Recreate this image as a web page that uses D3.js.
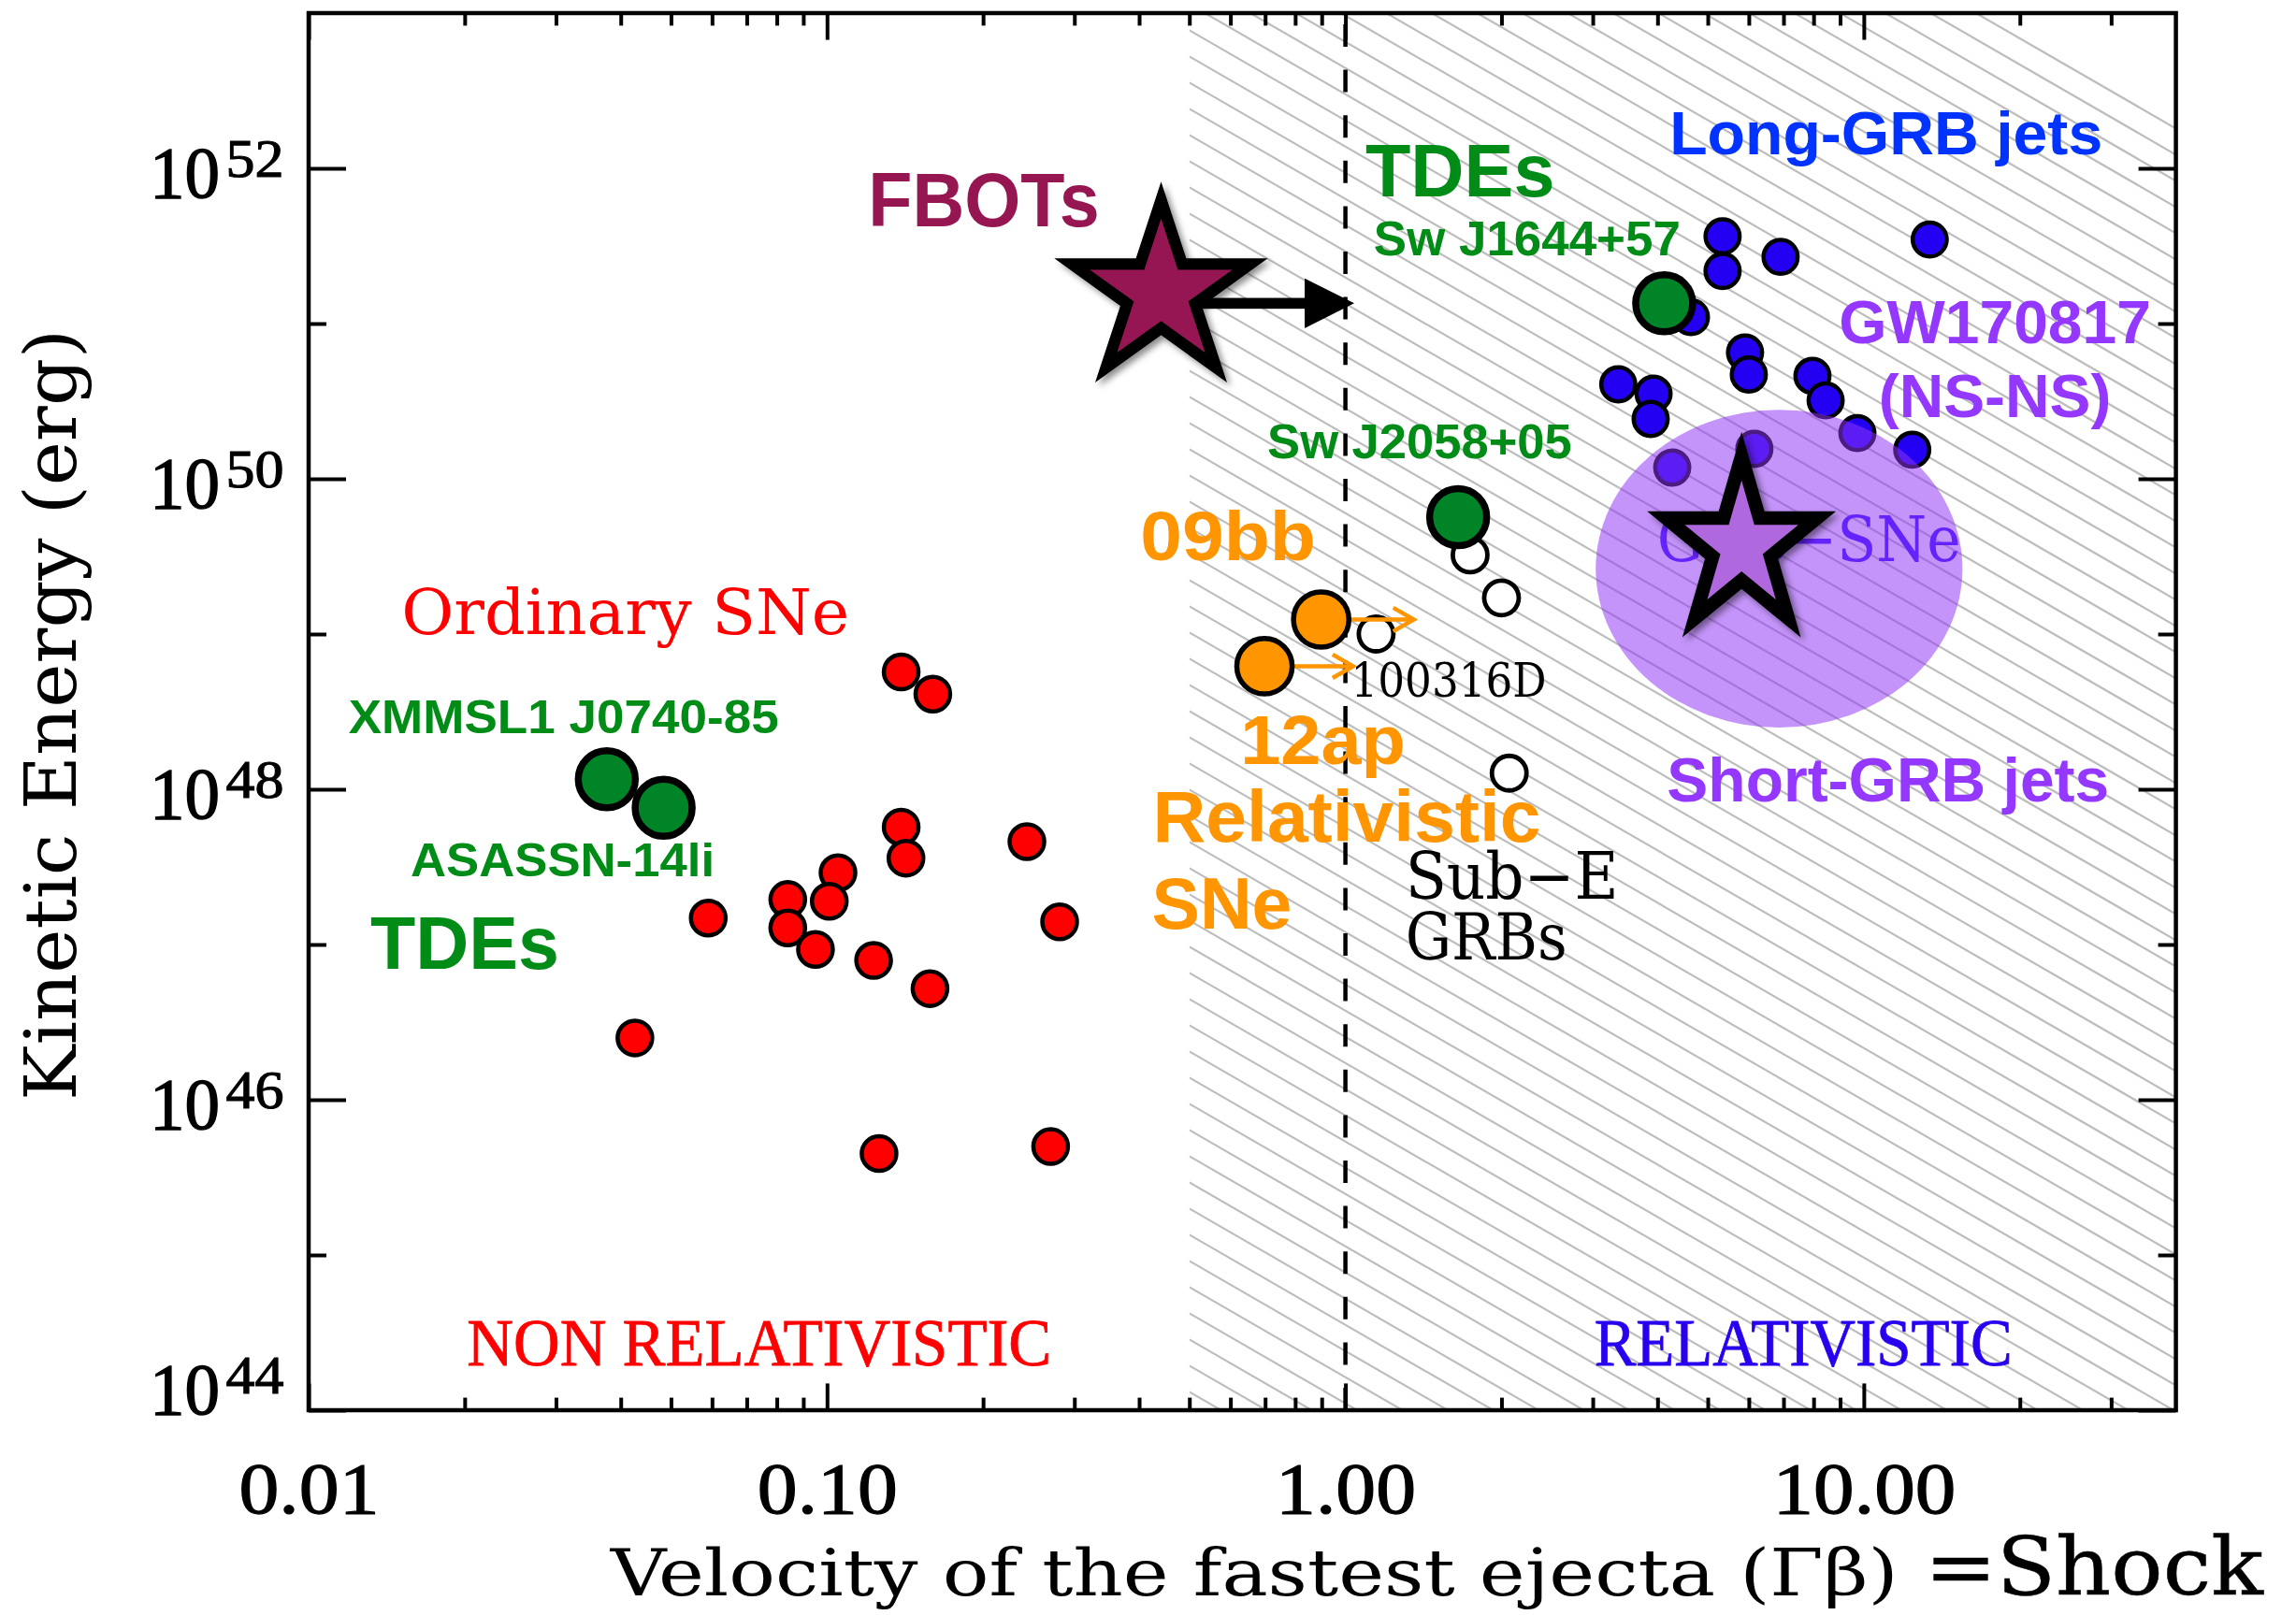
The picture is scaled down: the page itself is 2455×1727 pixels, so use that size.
<!DOCTYPE html>
<html>
<head>
<meta charset="utf-8">
<script src="https://cdn.jsdelivr.net/npm/d3@7"></script>
<style>
  html, body { margin: 0; padding: 0; background: #ffffff; }
  svg { display: block; }
</style>
</head>
<body>
<svg id="chart" width="2455" height="1727"></svg>
<script>
// ---------------------------------------------------------------------------
// Kinetic energy vs. velocity of the fastest ejecta (Γβ)
// Each record: [Γβ, kinetic energy in erg]
// ---------------------------------------------------------------------------
const ordinarySNe = [
  [0.139, 5.7e48], [0.160, 4.1e48], [0.139, 5.7e47], [0.142, 3.6e47],
  [0.243, 4.6e47], [0.105, 2.9e47], [0.101, 1.9e47], [0.084, 1.95e47],
  [0.084, 1.28e47], [0.095, 9.3e46], [0.123, 7.9e46], [0.281, 1.4e47],
  [0.158, 5.2e46], [0.059, 1.48e47], [0.0426, 2.5e46], [0.126, 4.5e45],
  [0.270, 5.0e45]
];

const longGRBJets = [
  [5.34, 3.65e51], [5.34, 2.18e51], [6.91, 2.69e51], [13.4, 3.48e51],
  [4.64, 1.10e51], [5.90, 6.5e50], [6.00, 4.7e50], [7.96, 4.6e50],
  [8.44, 3.2e50], [9.72, 1.97e50], [12.4, 1.54e50], [6.15, 1.56e50],
  [4.27, 1.18e50], [3.93, 3.53e50], [3.88, 2.43e50], [3.36, 4.06e50]
];

const subEnergeticGRBs = [
  [1.74, 3.23e49], [2.00, 1.71e49], [1.146, 1.0e49], [2.07, 1.27e48]
];

// relativistic SNe: lower limits on Γβ (arrow points to the right)
const relSNeNames = ["09bb", "12ap"];
const relSNeV     = [0.898, 0.698];
const relSNeE     = [1.24e49, 6.2e48];
const relSNeLimit = [1.355, 1.035];

const tdeNames = ["XMMSL1 J0740-85", "ASASSN-14li", "Sw J1644+57", "Sw J2058+05"];
const tdeV     = [0.0376, 0.0484, 4.12, 1.65];
const tdeE     = [1.16e48, 7.6e47, 1.35e51, 5.66e49];

// FBOTs (lower limit on Γβ) and GW170817
const fbot      = [0.441, 1.58e51];
const fbotLimit = [0.52, 1.04, 1.35e51];   // arrow: from Γβ, to Γβ, at energy
const gw170817  = [5.81, 3.7e49];

// short-GRB jet region: Γβ range, energy range
const shortGRBVRange = [3.04, 15.5];
const shortGRBERange = [2.5e48, 2.78e50];

// axes
const xDomain = [0.01, 40];
const yDomain = [1e44, 1e53];
const xMajorTicks = [0.01, 0.1, 1, 10];
const yMajorExp   = [44, 46, 48, 50, 52];
const yMinorExp   = [45, 47, 49, 51];
const relativisticBoundary = 1;     // Γβ = 1
const hatchFrom = 0.5;              // shaded (trans-relativistic and faster) region

// ---------------------------------------------------------------------------
const svg = d3.select("#chart");
const W = 2455, H = 1727;
const plot = { left: 330, right: 2326.6, top: 14, bottom: 1508 };

const x = d3.scaleLog().domain(xDomain).range([plot.left, plot.right]);
const y = d3.scaleLog().domain(yDomain).range([plot.bottom, plot.top]);

const SANS   = "'Liberation Sans', Arial, Helvetica, sans-serif";
const SERIF  = "'Liberation Serif', 'Times New Roman', serif";
const SLAB   = "'DejaVu Serif Condensed', 'DejaVu Serif', serif";
const SCHOOL = "'DejaVu Serif', serif";

const C = {
  red: "#ff0000", blue: "#2300f2", green: "#008428", greenText: "#008c16",
  orange: "#ff9500", maroon: "#961652", purpleText: "#9438ff",
  lgrbText: "#0033ff", relBlue: "#2800ee", gwStar: "#b068df",
  ellipse: "#9035f5", hatch: "#bdbdbd"
};

svg.append("rect").attr("width", W).attr("height", H).attr("fill", "#fff");

const defs = svg.append("defs");
defs.append("clipPath").attr("id", "hatchClip")
  .append("rect")
  .attr("x", x(hatchFrom)).attr("y", plot.top)
  .attr("width", plot.right - x(hatchFrom)).attr("height", plot.bottom - plot.top);
const shadow = defs.append("filter").attr("id", "starShadow")
  .attr("x", "-30%").attr("y", "-30%").attr("width", "160%").attr("height", "160%");
shadow.append("feDropShadow").attr("dx", 4).attr("dy", 4)
  .attr("stdDeviation", 3.5).attr("flood-color", "#000").attr("flood-opacity", 0.45);

// text helper: fixed width via textLength
function addText(g, str, px, py, o) {
  const t = g.append("text")
    .attr("x", px).attr("y", py)
    .attr("font-family", o.font).attr("font-size", o.size)
    .attr("font-weight", o.weight || "normal")
    .attr("fill", o.color || "#000")
    .attr("text-anchor", o.anchor || "start")
    .text(str);
  if (o.len) t.attr("textLength", o.len).attr("lengthAdjust", "spacingAndGlyphs");
  if (o.stroke) t.attr("stroke", o.color || "#000").attr("stroke-width", o.stroke);
  return t;
}
const at = (v, E) => [x(v), y(E)];

// ---- hatched region ------------------------------------------------------
const hatchG = svg.append("g").attr("clip-path", "url(#hatchClip)");
const slope = Math.tan(30 * Math.PI / 180), step = 28, x0 = x(hatchFrom);
for (let b = 1208.4 - step * 60; b < plot.bottom + step; b += step) {
  hatchG.append("line")
    .attr("x1", x0).attr("y1", b)
    .attr("x2", plot.right).attr("y2", b + (plot.right - x0) * slope)
    .attr("stroke", C.hatch).attr("stroke-width", 2.2);
}

// ---- Γβ = 1 boundary ----------------------------------------------------
svg.append("line")
  .attr("x1", x(relativisticBoundary)).attr("x2", x(relativisticBoundary))
  .attr("y1", plot.bottom).attr("y2", plot.top)
  .attr("stroke", "#000").attr("stroke-width", 4.5)
  .attr("stroke-dasharray", "24 24.6");

// ---- plot annotations in the plotting font ------------------------------
const txt = svg.append("g");
addText(txt, "Ordinary SNe", ...at(0.0151, 1.0e49), { font: SLAB, size: 68, color: C.red, len: 479 });
addText(txt, "NON RELATIVISTIC", ...at(0.0202, 1.94e44), { font: SERIF, size: 72, color: C.red, len: 625, stroke: 0.8 });
addText(txt, "RELATIVISTIC", ...at(3.02, 1.94e44), { font: SERIF, size: 72, color: C.relBlue, len: 447, stroke: 0.8 });
addText(txt, "100316D", ...at(1.025, 3.96e48), { font: SLAB, size: 50, color: "#000", len: 209 });
addText(txt, "Sub\u2212E", ...at(1.305, 1.98e47), { font: SLAB, size: 70, color: "#000", len: 228 });
addText(txt, "GRBs", ...at(1.305, 8.0e46), { font: SLAB, size: 70, color: "#000", len: 173 });
addText(txt, "GRB\u2212SNe", ...at(3.99, 2.95e49), { font: SLAB, size: 68, color: "#3410ff", len: 325 });

// ---- data points from the plotting layer ---------------------------------
const pts = svg.append("g");
pts.selectAll("circle.sn").data(ordinarySNe).join("circle")
  .attr("cx", d => x(d[0])).attr("cy", d => y(d[1])).attr("r", 18.5)
  .attr("fill", C.red).attr("stroke", "#000").attr("stroke-width", 4.5);
pts.selectAll("circle.grb").data(longGRBJets).join("circle")
  .attr("cx", d => x(d[0])).attr("cy", d => y(d[1])).attr("r", 18.2)
  .attr("fill", C.blue).attr("stroke", "#000").attr("stroke-width", 4.5);
pts.selectAll("circle.sub").data(subEnergeticGRBs).join("circle")
  .attr("cx", d => x(d[0])).attr("cy", d => y(d[1])).attr("r", 18.5)
  .attr("fill", "#fff").attr("stroke", "#000").attr("stroke-width", 4.8);

// ---- frame and ticks ------------------------------------------------------
const axG = svg.append("g");
const minorX = [];
for (let k = -2; k <= 1; k++) for (let m = 2; m <= 9; m++) {
  const v = m * Math.pow(10, k);
  if (v < xDomain[1]) minorX.push(v);
}
function styleAxis(g) {
  g.select(".domain").remove();
  g.selectAll(".tick line").attr("stroke", "#000").attr("stroke-width", 4);
}
axG.append("g").attr("transform", `translate(0,${plot.bottom})`)
  .call(d3.axisBottom(x).tickValues(minorX).tickSize(-13.4).tickFormat("")).call(styleAxis);
axG.append("g").attr("transform", `translate(0,${plot.top})`)
  .call(d3.axisTop(x).tickValues(minorX).tickSize(-13.4).tickFormat("")).call(styleAxis);
axG.append("g").attr("transform", `translate(0,${plot.top})`)
  .call(d3.axisTop(x).tickValues(xMajorTicks).tickSize(-28.6).tickFormat("")).call(styleAxis);
const xAx = axG.append("g").attr("transform", `translate(0,${plot.bottom})`)
  .call(d3.axisBottom(x).tickValues(xMajorTicks).tickSize(-28.6).tickFormat(d3.format(".2f")))
  .call(styleAxis);
xAx.selectAll(".tick text").remove();
xAx.selectAll(".tick").each(function (d) {
  const lab = d3.format(".2f")(d);
  addText(d3.select(this), lab, 0, 110, {
    font: SERIF, size: 78, color: "#000", anchor: "middle",
    len: lab.length === 4 ? 150 : 196, stroke: 1.2
  });
});

const yMajor = yMajorExp.map(e => Math.pow(10, e));
const yMinor = yMinorExp.map(e => Math.pow(10, e));
axG.append("g").attr("transform", `translate(${plot.left},0)`)
  .call(d3.axisLeft(y).tickValues(yMinor).tickSize(-19).tickFormat("")).call(styleAxis);
axG.append("g").attr("transform", `translate(${plot.right},0)`)
  .call(d3.axisRight(y).tickValues(yMinor).tickSize(-19).tickFormat("")).call(styleAxis);
axG.append("g").attr("transform", `translate(${plot.right},0)`)
  .call(d3.axisRight(y).tickValues(yMajor).tickSize(-40).tickFormat("")).call(styleAxis);
const yAx = axG.append("g").attr("transform", `translate(${plot.left},0)`)
  .call(d3.axisLeft(y).tickValues(yMajor).tickSize(-40).tickFormat(""))
  .call(styleAxis);
yAx.selectAll(".tick").each(function (d) {
  const e = Math.round(Math.log10(d));
  const base = e === yMajorExp[0] ? 3 : 30;     // lowest label lifted off the x axis
  const g = d3.select(this);
  addText(g, "10", -95, base, { font: SERIF, size: 78, anchor: "end", len: 75, stroke: 1.4 });
  addText(g, String(e), -88.4, base - 22, { font: SERIF, size: 58, anchor: "start", len: 62, stroke: 1.1 });
});

axG.append("rect")
  .attr("x", plot.left).attr("y", plot.top)
  .attr("width", plot.right - plot.left).attr("height", plot.bottom - plot.top)
  .attr("fill", "none").attr("stroke", "#000").attr("stroke-width", 4.5);

// ---- axis titles ------------------------------------------------------------
addText(svg, "Kinetic Energy (erg)", 0, 0, { font: SLAB, size: 76, len: 825 })
  .attr("text-anchor", "middle")
  .attr("transform", "translate(81,764.5) rotate(-90)");
addText(svg, "Velocity of the fastest ejecta (\u0393\u03b2)", 652.7, 1706,
  { font: SLAB, size: 70, len: 1377 });
addText(svg, "=Shock", 2058, 1705, { font: SCHOOL, size: 86, len: 362, stroke: 0.5 });

// ---- short-GRB jet region ----------------------------------------------------
const ex1 = x(shortGRBVRange[0]), ex2 = x(shortGRBVRange[1]);
const ey1 = y(shortGRBERange[1]), ey2 = y(shortGRBERange[0]);
svg.append("ellipse")
  .attr("cx", (ex1 + ex2) / 2).attr("cy", (ey1 + ey2) / 2)
  .attr("rx", (ex2 - ex1) / 2).attr("ry", (ey2 - ey1) / 2)
  .attr("fill", C.ellipse).attr("fill-opacity", 0.53);

// ---- relativistic SNe with lower-limit arrows ------------------------------
const ov = svg.append("g");
relSNeNames.forEach((n, i) => {
  const cx = x(relSNeV[i]), cy = y(relSNeE[i]), tip = x(relSNeLimit[i]);
  ov.append("line").attr("x1", cx).attr("y1", cy).attr("x2", tip).attr("y2", cy)
    .attr("stroke", C.orange).attr("stroke-width", 4.5);
  ov.append("polyline")
    .attr("points", `${tip - 22},${cy - 12.6} ${tip},${cy} ${tip - 22},${cy + 12.6}`)
    .attr("fill", "none").attr("stroke", C.orange).attr("stroke-width", 4.5)
    .attr("stroke-linejoin", "miter");
});
relSNeNames.forEach((n, i) => {
  ov.append("circle").attr("cx", x(relSNeV[i])).attr("cy", y(relSNeE[i])).attr("r", 29.6)
    .attr("fill", C.orange).attr("stroke", "#000").attr("stroke-width", 5.5);
});

// ---- TDEs ---------------------------------------------------------------------
tdeNames.forEach((n, i) => {
  ov.append("circle").attr("cx", x(tdeV[i])).attr("cy", y(tdeE[i])).attr("r", 30.5)
    .attr("fill", C.green).attr("stroke", "#000").attr("stroke-width", 7.5);
});

// ---- stars --------------------------------------------------------------------
function starPath(cx, cy, rx, ry) {
  const p = [];
  for (let i = 0; i < 10; i++) {
    const a = -Math.PI / 2 + i * Math.PI / 5;
    const r = i % 2 === 0 ? 1 : 0.382;
    p.push([cx + rx * r * Math.cos(a), cy + ry * r * Math.sin(a)]);
  }
  return "M" + p.map(q => q.join(",")).join("L") + "Z";
}

// FBOT lower limit arrow
const ay = y(fbotLimit[2]), ax1 = x(fbotLimit[0]), ax2 = x(fbotLimit[1]);
ov.append("rect").attr("x", ax1).attr("y", ay - 5.8)
  .attr("width", ax2 - 52 - ax1).attr("height", 11.6).attr("fill", "#000");
ov.append("polygon")
  .attr("points", `${ax2 - 53},${ay - 26.7} ${ax2},${ay} ${ax2 - 53},${ay + 26.7}`)
  .attr("fill", "#000");

ov.append("path")
  .attr("d", starPath(x(fbot[0]), y(fbot[1]), 100, 99))
  .attr("fill", C.maroon).attr("stroke", "#000").attr("stroke-width", 12.3)
  .attr("stroke-linejoin", "miter").attr("stroke-miterlimit", 10)
  .attr("filter", "url(#starShadow)");
ov.append("path")
  .attr("d", starPath(x(gw170817[0]), y(gw170817[1]), 85, 96))
  .attr("fill", C.gwStar).attr("stroke", "#000").attr("stroke-width", 14.4)
  .attr("stroke-linejoin", "miter").attr("stroke-miterlimit", 10)
  .attr("filter", "url(#starShadow)");

// ---- class labels -------------------------------------------------------------
const lab = svg.append("g");
const bold = (size, color, len, anchor) => ({ font: SANS, weight: "bold", size, color, len, anchor });
addText(lab, "FBOTs", ...at(0.12, 4.25e51), bold(81, C.maroon, 247.6));
addText(lab, "TDEs", ...at(1.093, 6.6e51), bold(80, C.greenText, 202.5));
addText(lab, tdeNames[2], ...at(1.134, 2.77e51), bold(51, C.greenText, 328));
addText(lab, "Long-GRB jets", ...at(4.22, 1.23e52), bold(65, C.lgrbText, 463));
addText(lab, "GW170817", ...at(17.9, 7.43e50), bold(65, C.purpleText, 333.6, "middle"));
addText(lab, "(NS-NS)", ...at(17.9, 2.5e50), bold(65, C.purpleText, 248.6, "middle"));
addText(lab, tdeNames[3], ...at(0.707, 1.36e50), bold(51, C.greenText, 325.7));
addText(lab, relSNeNames[0], ...at(0.402, 2.99e49), bold(75, C.orange, 187.7));
addText(lab, relSNeNames[1], ...at(0.627, 1.45e48), bold(75, C.orange, 176.6));
addText(lab, "Relativistic", ...at(0.425, 4.6e47), bold(78, C.orange, 415));
addText(lab, "SNe", ...at(0.423, 1.26e47), bold(78, C.orange, 150));
addText(lab, tdeNames[0], ...at(0.01194, 2.3e48), bold(50, C.greenText, 460));
addText(lab, tdeNames[1], ...at(0.01573, 2.76e47), bold(50, C.greenText, 325));
addText(lab, "TDEs", ...at(0.01315, 6.97e46), bold(80, C.greenText, 202));
addText(lab, "Short-GRB jets", ...at(4.17, 8.3e47), bold(66, C.purpleText, 473));
</script>
</body>
</html>
